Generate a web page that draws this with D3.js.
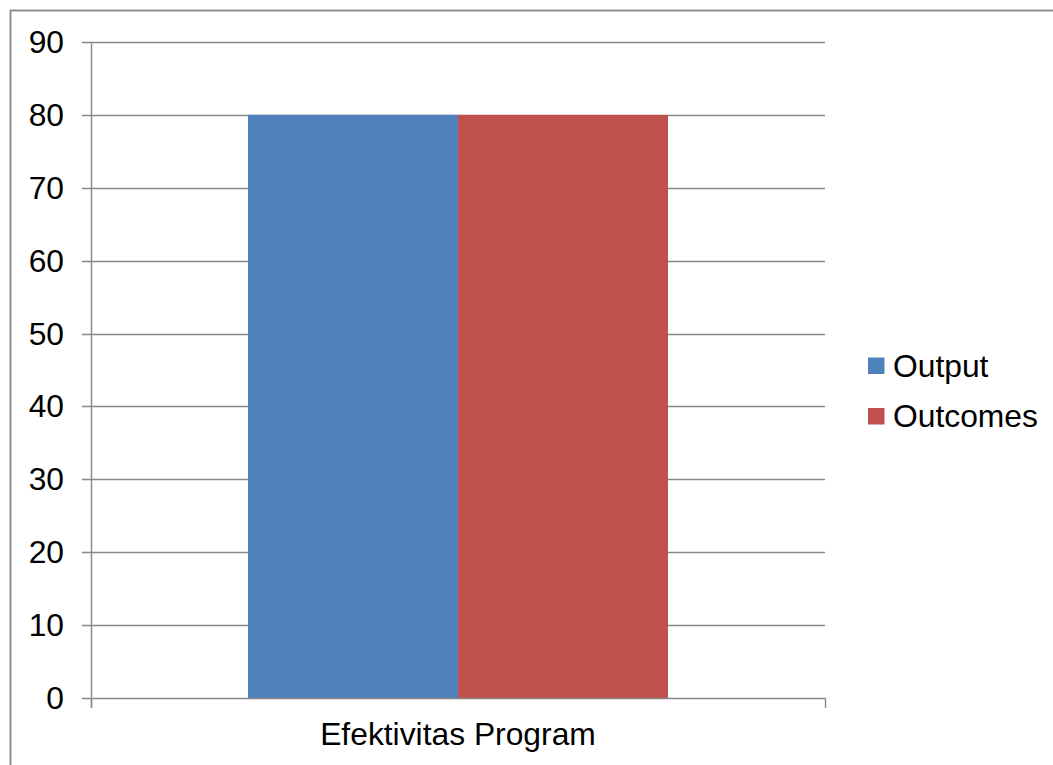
<!DOCTYPE html>
<html>
<head>
<meta charset="utf-8">
<script src="https://cdn.jsdelivr.net/npm/d3@7/dist/d3.min.js"></script>
<style>
  html, body { margin: 0; padding: 0; background: #fff; }
  svg { display: block; }
  text { font-family: "Liberation Sans", Arial, sans-serif; fill: #000; }
</style>
</head>
<body>
<svg id="chart" width="1053" height="765"></svg>
<script>
const categories = ["Efektivitas Program"];
const seriesNames = ["Output", "Outcomes"];
const outputValues = [80];
const outcomesValues = [80];
const yTicks = [0, 10, 20, 30, 40, 50, 60, 70, 80, 90];
const colors = ["#4F81BD", "#C0504D"];

const seriesValues = [outputValues, outcomesValues];

const svg = d3.select("#chart");
const W = 1053, H = 765;

// outer chart border
svg.append("rect")
  .attr("x", 10.5).attr("y", 10.5)
  .attr("width", W + 20).attr("height", H + 20)
  .attr("fill", "#fff")
  .attr("stroke", "#868686").attr("stroke-width", 1.8);

const plot = { left: 91, right: 825, top: 42, bottom: 698 };

const y = d3.scaleLinear().domain([0, 90]).range([plot.bottom, plot.top]);
const x0 = d3.scaleBand().domain(categories).range([plot.left, plot.right]).paddingInner(0).paddingOuter(0);
const barGroupWidth = 420;
const innerPad = (x0.bandwidth() - barGroupWidth) / 2;
const x1 = d3.scaleBand().domain(seriesNames).range([innerPad, x0.bandwidth() - innerPad]).padding(0);

const fontSize = 31.8;

// gridlines
svg.append("g")
  .selectAll("line")
  .data(yTicks.filter(t => t !== 0))
  .join("line")
  .attr("x1", plot.left - 9).attr("x2", plot.right)
  .attr("y1", d => Math.round(y(d)) + 0.5).attr("y2", d => Math.round(y(d)) + 0.5)
  .attr("stroke", "#878787").attr("stroke-width", 1.4);

// bars
const groups = svg.append("g")
  .selectAll("g")
  .data(categories)
  .join("g")
  .attr("transform", d => `translate(${x0(d)},0)`);

groups.selectAll("rect")
  .data((d, i) => seriesNames.map((s, j) => ({ s, v: seriesValues[j][i], j })))
  .join("rect")
  .attr("x", d => x1(d.s))
  .attr("width", x1.bandwidth())
  .attr("y", d => y(d.v))
  .attr("height", d => y(0) - y(d.v))
  .attr("fill", d => colors[d.j]);

// y axis line
svg.append("line")
  .attr("x1", plot.left + 0.5).attr("x2", plot.left + 0.5)
  .attr("y1", plot.top).attr("y2", plot.bottom + 10)
  .attr("stroke", "#878787").attr("stroke-width", 1.4);

// x axis line
svg.append("line")
  .attr("x1", plot.left - 9).attr("x2", plot.right + 0.7)
  .attr("y1", plot.bottom + 0.5).attr("y2", plot.bottom + 0.5)
  .attr("stroke", "#878787").attr("stroke-width", 1.4);

// x axis ticks at band edges
const xEdges = [plot.left, plot.right];
svg.append("g").selectAll("line")
  .data(xEdges)
  .join("line")
  .attr("x1", d => d + 0.5).attr("x2", d => d + 0.5)
  .attr("y1", plot.bottom).attr("y2", plot.bottom + 10)
  .attr("stroke", "#878787").attr("stroke-width", 1.4);

// y tick labels
svg.append("g").selectAll("text")
  .data(yTicks)
  .join("text")
  .attr("x", 64)
  .attr("y", d => y(d) + 11)
  .attr("text-anchor", "end")
  .attr("font-size", fontSize)
  .text(d => d);

// x category labels
svg.append("g").selectAll("text")
  .data(categories)
  .join("text")
  .attr("x", d => x0(d) + x0.bandwidth() / 2)
  .attr("y", 745)
  .attr("text-anchor", "middle")
  .attr("font-size", fontSize)
  .text(d => d);

// legend
const legend = svg.append("g").attr("transform", "translate(868,357.5)");
const li = legend.selectAll("g")
  .data(seriesNames)
  .join("g")
  .attr("transform", (d, i) => `translate(0,${i * 50.5})`);
li.append("rect")
  .attr("width", 16.5).attr("height", 16.5)
  .attr("fill", (d, i) => colors[i]);
li.append("text")
  .attr("x", 25)
  .attr("y", 19)
  .attr("font-size", fontSize)
  .text(d => d);
</script>
</body>
</html>
